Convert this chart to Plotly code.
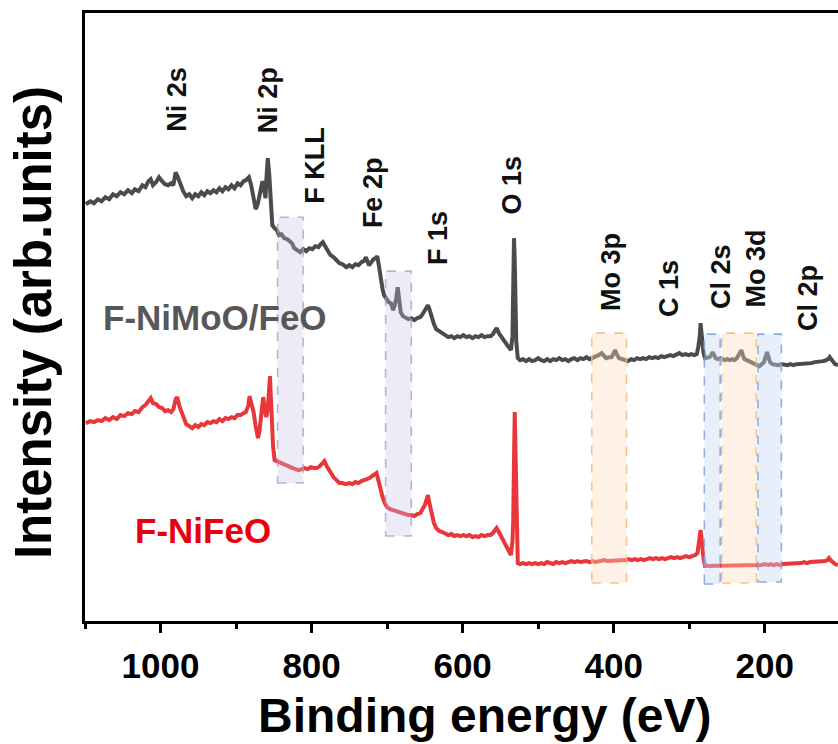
import plotly.graph_objects as go

# XPS survey spectra: (binding energy in eV, intensity in arb. units)
nimoo_feo = [
    (1099, 417), (1093, 420), (1088, 418), (1083, 422), (1078, 420), (1073, 424), (1068, 422),
    (1063, 427), (1058, 425), (1053, 429), (1048, 427), (1043, 431), (1038, 428), (1034, 432),
    (1029, 430), (1024, 436), (1020, 434), (1016, 440), (1013, 442), (1010, 436), (1006, 439),
    (1002, 444), (998, 440), (994, 437), (990, 436), (986, 438), (983, 436), (980, 449),
    (977, 444), (974, 437), (970, 430), (966, 425), (962, 427), (958, 423), (954, 427),
    (950, 425), (946, 429), (942, 426), (938, 430), (934, 428), (930, 431), (926, 429),
    (922, 433), (918, 430), (914, 434), (910, 432), (906, 436), (902, 433), (898, 438),
    (894, 436), (890, 440), (887, 441), (883, 444), (880, 436), (877, 425), (874, 412),
    (871, 418), (868, 428), (865, 440), (863, 432), (861, 423), (860, 440), (858, 463),
    (856, 446), (854, 420), (852, 396), (849, 393), (846, 391), (843, 386), (840, 387),
    (836, 383), (832, 382), (829, 380), (826, 378), (823, 373), (819, 371), (815, 369),
    (811, 372), (807, 370), (803, 373), (799, 372), (795, 375), (791, 374), (788, 377),
    (785, 379), (782, 375), (778, 370), (775, 366), (771, 364), (767, 361), (763, 358),
    (759, 357), (754, 354), (750, 356), (746, 354), (742, 357), (738, 356), (734, 359),
    (731, 360), (728, 364), (726, 360), (724, 356), (721, 359), (718, 362), (715, 363),
    (713, 365), (711, 356), (708, 340), (706, 332), (704, 326), (701, 322), (698, 319),
    (695, 318), (692, 311), (690, 316), (688, 322), (686, 334), (685, 328), (684, 316),
    (682, 309), (679, 305), (676, 304), (672, 302), (668, 303), (664, 301), (660, 303),
    (656, 304), (653, 307), (650, 311), (648, 314), (646, 316), (644, 312), (641, 303),
    (638, 297), (635, 292), (631, 290), (627, 288), (623, 286), (619, 284), (615, 285),
    (611, 283), (607, 285), (603, 284), (599, 286), (595, 284), (591, 285), (587, 283),
    (583, 285), (579, 284), (575, 286), (571, 284), (567, 285), (563, 285), (560, 287),
    (557, 290), (555, 293), (552, 288), (548, 283), (545, 280), (541, 276), (538, 273),
    (536, 271), (534, 285), (533, 330), (532, 383), (531, 360), (530, 310), (529, 280),
    (527, 263), (524, 261), (520, 262), (516, 260), (512, 262), (508, 260), (504, 261),
    (500, 263), (496, 261), (492, 260), (488, 262), (484, 260), (480, 262), (476, 261),
    (472, 263), (468, 261), (464, 262), (460, 260), (456, 262), (452, 263), (448, 261),
    (444, 263), (440, 262), (436, 264), (432, 262), (428, 263), (424, 264), (420, 266),
    (416, 268), (413, 265), (410, 263), (406, 264), (403, 264), (400, 268), (398, 271),
    (396, 267), (393, 263), (389, 262), (385, 261), (381, 260), (377, 262), (373, 261),
    (369, 263), (365, 262), (361, 263), (357, 262), (353, 264), (349, 263), (345, 264),
    (341, 263), (337, 265), (333, 264), (329, 265), (325, 266), (321, 265), (317, 267),
    (313, 268), (309, 266), (305, 267), (301, 266), (297, 267), (293, 266), (290, 267),
    (288, 274), (286, 285), (285, 298), (284, 290), (283, 278), (281, 268), (279, 263),
    (276, 264), (273, 264), (271, 266), (269, 269), (267, 266), (265, 263), (262, 262),
    (259, 263), (256, 262), (253, 261), (250, 262), (246, 261), (243, 262), (240, 261),
    (237, 263), (235, 266), (233, 270), (231, 271), (229, 266), (227, 262), (224, 261),
    (221, 260), (217, 259), (214, 258), (210, 256), (207, 255), (204, 257), (201, 259),
    (199, 264), (197, 269), (195, 264), (193, 259), (190, 257), (186, 256), (182, 256),
    (178, 257), (174, 256), (170, 256), (166, 257), (162, 256), (158, 257), (154, 257),
    (150, 258), (146, 257), (142, 258), (138, 258), (134, 259), (130, 259), (126, 260),
    (122, 260), (119, 261), (116, 262), (114, 264), (112, 262), (110, 259), (107, 257),
    (103, 256),
]

nifeo = [
    (1099, 198), (1093, 200), (1088, 199), (1083, 201), (1078, 200), (1073, 203), (1068, 201),
    (1063, 204), (1058, 202), (1053, 206), (1048, 205), (1043, 208), (1038, 207), (1034, 210),
    (1029, 209), (1024, 214), (1020, 216), (1016, 221), (1013, 223), (1010, 218), (1006, 217),
    (1002, 214), (998, 213), (994, 210), (990, 211), (986, 209), (983, 212), (980, 222),
    (978, 224), (975, 215), (972, 208), (969, 202), (966, 197), (962, 195), (958, 193),
    (954, 196), (950, 194), (946, 197), (942, 196), (938, 199), (934, 198), (930, 200),
    (926, 199), (922, 202), (918, 200), (914, 203), (910, 202), (906, 204), (902, 203),
    (898, 206), (894, 206), (890, 208), (887, 209), (884, 215), (882, 225), (880, 218),
    (877, 210), (874, 195), (871, 183), (869, 190), (867, 201), (865, 218), (864, 224),
    (862, 212), (860, 204), (858, 212), (856, 230), (855, 245), (854, 225), (853, 200),
    (851, 175), (849, 161), (846, 160), (843, 158), (840, 158), (836, 156), (832, 155),
    (829, 154), (825, 153), (821, 152), (817, 151), (813, 152), (809, 153), (805, 152),
    (801, 154), (797, 153), (793, 153), (789, 155), (786, 157), (783, 160), (780, 155),
    (777, 151), (774, 147), (771, 144), (767, 141), (763, 138), (759, 138), (755, 137),
    (750, 138), (746, 137), (742, 139), (738, 138), (734, 140), (730, 141), (726, 142),
    (723, 143), (720, 145), (717, 147), (714, 148), (712, 142), (709, 132), (706, 124),
    (703, 118), (700, 114), (696, 112), (692, 111), (688, 110), (684, 108), (680, 108),
    (676, 107), (672, 106), (668, 106), (664, 105), (660, 107), (656, 108), (653, 112),
    (650, 116), (648, 121), (646, 126), (644, 118), (641, 108), (638, 98), (635, 93),
    (631, 90), (627, 89), (623, 88), (619, 86), (615, 87), (611, 85), (607, 86),
    (603, 85), (599, 86), (595, 85), (591, 86), (587, 84), (583, 85), (579, 84),
    (575, 86), (571, 85), (567, 86), (563, 86), (560, 88), (557, 91), (555, 93),
    (552, 89), (548, 83), (545, 78), (541, 73), (538, 69), (536, 66), (534, 80),
    (533, 101), (532, 160), (531, 209), (530, 170), (529, 110), (528, 75), (527, 58),
    (524, 57), (520, 58), (516, 57), (512, 58), (508, 57), (504, 58), (500, 57),
    (496, 58), (492, 57), (488, 59), (484, 58), (480, 57), (476, 59), (472, 58),
    (468, 59), (464, 58), (460, 59), (456, 60), (452, 59), (448, 60), (444, 59),
    (440, 60), (436, 60), (432, 59), (428, 60), (424, 59), (420, 60), (416, 60),
    (412, 61), (408, 60), (404, 60), (400, 61), (396, 60), (392, 61), (388, 60),
    (384, 61), (380, 62), (376, 61), (372, 62), (368, 61), (364, 62), (360, 61),
    (356, 62), (352, 63), (348, 62), (344, 63), (340, 62), (336, 63), (332, 62),
    (328, 63), (324, 64), (320, 63), (316, 64), (312, 63), (308, 64), (304, 65),
    (300, 64), (296, 65), (292, 66), (289, 68), (287, 78), (286, 84), (285, 91),
    (284, 85), (283, 72), (281, 62), (279, 55), (276, 55), (273, 56), (270, 55),
    (267, 56), (264, 55), (261, 55), (258, 56), (255, 55), (252, 56), (249, 55),
    (246, 55), (243, 56), (240, 55), (237, 55), (234, 56), (231, 55), (228, 56),
    (225, 55), (222, 55), (219, 56), (216, 55), (213, 56), (210, 55), (207, 56),
    (204, 56), (201, 57), (198, 56), (195, 56), (192, 57), (188, 56), (184, 57),
    (180, 56), (176, 57), (172, 57), (168, 58), (164, 57), (160, 58), (156, 58),
    (152, 58), (148, 59), (144, 58), (140, 59), (136, 59), (132, 59), (128, 60),
    (124, 59), (120, 60), (117, 61), (115, 63), (113, 61), (110, 59), (107, 57),
    (103, 56),
]

sample_names = ["F-NiMoO/FeO", "F-NiFeO"]

# Core-level / Auger assignments
peak_names = ["Ni 2s", "Ni 2p", "F KLL", "Fe 2p", "F 1s", "O 1s",
              "Mo 3p", "C 1s", "Cl 2s", "Mo 3d", "Cl 2p"]

# Highlighted binding-energy windows (high, low) in eV
windows_ni_fe = [(845, 811), (702, 668)]
windows_mo = [(429, 383), (257, 211)]
windows_cl = [(280, 259), (209, 178)]

x_tick_values = [1000, 800, 600, 400, 200]

FONT = "Liberation Sans, Arial, Helvetica, sans-serif"
GRAY = "#4b4b4b"
RED = "#e8363a"

fig = go.Figure()
for spec, colour, name in [(nimoo_feo, GRAY, sample_names[0]), (nifeo, RED, sample_names[1])]:
    fig.add_trace(go.Scatter(
        x=[p[0] for p in spec], y=[p[1] for p in spec],
        mode="lines", name=name,
        line=dict(color=colour, width=4, shape="linear"),
        showlegend=False,
    ))

# shaded, dashed-outline windows
box_y = {"ni_fe": [(404, 138), (350, 85)], "mo": [(288, 38), (288, 38)], "cl": [(287, 37), (287, 39)]}
box_style = {
    "ni_fe": ("rgba(200,196,228,0.32)", "rgba(160,156,196,0.75)"),
    "mo": ("rgba(253,222,190,0.38)", "rgba(244,185,125,0.85)"),
    "cl": ("rgba(196,216,244,0.42)", "rgba(130,165,222,0.9)"),
}
for key, wins in [("ni_fe", windows_ni_fe), ("mo", windows_mo), ("cl", windows_cl)]:
    fill, edge = box_style[key]
    for (hi, lo), (top, bot) in zip(wins, box_y[key]):
        fig.add_shape(type="rect", xref="x", yref="y", x0=hi, x1=lo, y0=bot, y1=top,
                      fillcolor=fill, line=dict(color=edge, width=1.6, dash="dash"),
                      layer="above")

# peak labels (rotated)
label_pos = [(977.6, 522), (857.8, 521), (794.9, 456), (718.8, 429), (632.8, 383),
             (534.2, 436), (403.8, 349), (327, 333), (258.2, 345), (211.2, 353), (143, 323)]
for name, (lx, ly) in zip(peak_names, label_pos):
    fig.add_annotation(x=lx, y=ly, xref="x", yref="y", text=name, showarrow=False,
                       textangle=-90, xanchor="center", yanchor="middle",
                       font=dict(family=FONT, size=27, color="#111111", weight="bold"))

# sample labels
fig.add_annotation(x=928, y=304, xref="x", yref="y", text=sample_names[0], showarrow=False,
                   xanchor="center", yanchor="middle",
                   font=dict(family=FONT, size=35, color="#575757", weight="bold"))
fig.add_annotation(x=944, y=91, xref="x", yref="y", text=sample_names[1], showarrow=False,
                   xanchor="center", yanchor="middle",
                   font=dict(family=FONT, size=35, color="#e8000f", weight="bold"))

# axis titles
fig.add_annotation(x=-0.069, y=0.49, xref="paper", yref="paper", text="Intensity (arb.units)",
                   showarrow=False, textangle=-90, xanchor="center", yanchor="middle",
                   font=dict(family=FONT, size=51, color="black", weight="bold"))
fig.add_annotation(x=0.531, y=-0.155, xref="paper", yref="paper", text="Binding energy (eV)",
                   showarrow=False, xanchor="center", yanchor="middle",
                   font=dict(family=FONT, size=48, color="black", weight="bold"))

fig.update_layout(
    width=838, height=744,
    margin=dict(l=85, r=0, t=13, b=123),
    paper_bgcolor="white", plot_bgcolor="white",
    xaxis=dict(
        range=[1100, 103], showgrid=False, zeroline=False,
        showline=True, linecolor="black", linewidth=3, mirror=True,
        ticks="outside", ticklen=9, tickwidth=3, tickcolor="black",
        tickvals=x_tick_values, ticklabelstandoff=3,
        tickfont=dict(family=FONT, size=35, color="black", weight="bold"),
        minor=dict(ticks="outside", ticklen=5, tickwidth=3, tickcolor="black", dtick=100, tick0=100),
    ),
    yaxis=dict(
        range=[0, 608.3], showgrid=False, zeroline=False,
        showline=True, linecolor="black", linewidth=3, mirror=False,
        ticks="", showticklabels=False,
    ),
)

fig.write_html("out.html")
